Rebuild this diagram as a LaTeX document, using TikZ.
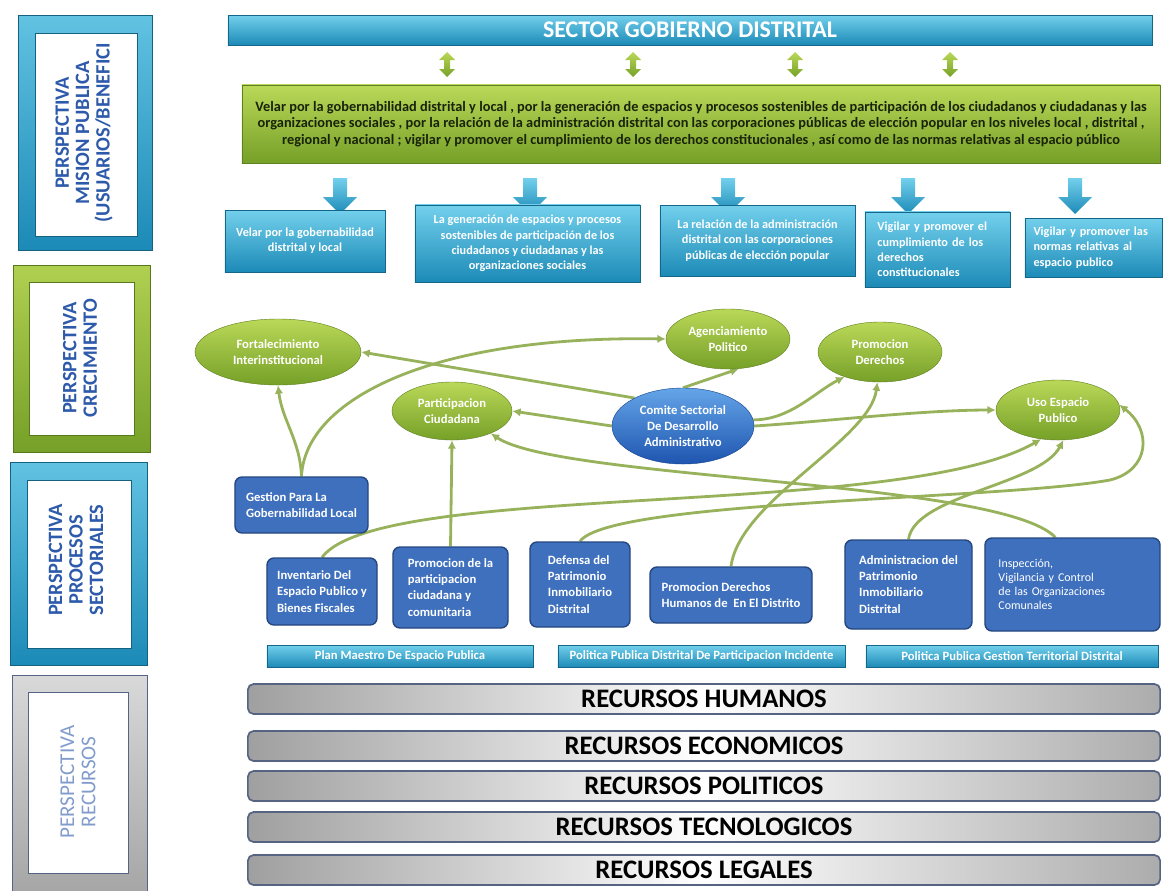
\documentclass[tikz,border=0pt]{standalone}
\usepackage{fontspec}
\setmainfont{Carlito}
\usetikzlibrary{shapes.geometric,arrows.meta}

\definecolor{cyanTop}{RGB}{115,208,236}
\definecolor{cyanBot}{RGB}{28,138,183}
\definecolor{greenTop}{RGB}{186,216,88}
\definecolor{greenBot}{RGB}{118,160,40}
\definecolor{procBlue}{RGB}{62,112,190}
\definecolor{procEdge}{RGB}{38,70,128}
\definecolor{comTop}{RGB}{100,165,232}
\definecolor{comBot}{RGB}{30,85,175}
\definecolor{linkGreen}{RGB}{152,178,92}
\definecolor{persText}{RGB}{45,90,170}
\definecolor{recEdge}{RGB}{85,100,130}
\definecolor{misText}{RGB}{25,35,10}

\pgfdeclarelayer{back}
\pgfsetlayers{back,main}

\tikzset{
  cyanbox/.style={draw=cyanBot!75!black, line width=0.4pt, top color=cyanTop, bottom color=cyanBot,
    text=white, font=\bfseries\fontsize{8.7}{10.8}\selectfont, inner sep=2pt},
  goal/.style={ellipse, top color=greenTop, bottom color=greenBot, draw=greenBot!80!black, line width=0.3pt,
    text=white, align=center, font=\bfseries\fontsize{9}{11.5}\selectfont, inner sep=0pt},
  proc/.style={rounded corners=5pt, fill=procBlue, draw=procEdge, line width=1pt, text=white,
    align=left, font=\bfseries\fontsize{9}{11.5}\selectfont},
  policy/.style={cyanbox, minimum height=0.55cm, font=\bfseries\fontsize{9}{10}\selectfont},
  recurso/.style={rounded corners=4pt, draw=recEdge, line width=1.2pt, left color=gray!75, right color=gray!65,
    middle color=white, minimum width=22.8cm, minimum height=0.75cm, font=\bfseries\fontsize{19}{20}\selectfont},
  link/.style={draw=linkGreen, line width=2pt, -{Latex[length=6pt,width=6pt]}},
  perstext/.style={rotate=90, text=persText, align=center, font=\bfseries\fontsize{14.5}{14.5}\selectfont},
}

\begin{document}
\begin{tikzpicture}[x=0.025cm, y=-0.025cm]
\useasboundingbox (0,0) rectangle (1168,890);

% perspectivas (columna izquierda)
\draw[cyanBot!70!black, top color=cyanTop!80!cyanBot, bottom color=cyanBot] (18,15) rectangle (152,250);
\draw[cyanBot!70!black, fill=white] (35,33) rectangle (137,236);
\node[perstext] (persMision) at (84,133) {PERSPECTIVA\\MISION PUBLICA\\(USUARIOS/BENEFICI};

\draw[greenBot!75!black, top color=greenTop!85!greenBot, bottom color=greenBot] (13,265) rectangle (150,452);
\draw[greenBot!75!black, fill=white] (29,282) rectangle (134,435);
\node[perstext] (persCrec) at (80,358) {PERSPECTIVA\\CRECIMIENTO};

\draw[cyanBot!70!black, top color=cyanTop!80!cyanBot, bottom color=cyanBot] (10,462) rectangle (147,665);
\draw[cyanBot!70!black, fill=white] (27,480) rectangle (131,648);
\node[perstext] (persProc) at (76,560) {PERSPECTIVA\\PROCESOS\\SECTORIALES};

\draw[recEdge, top color=gray!30, bottom color=gray!70] (12,675) rectangle (147,892);
\draw[recEdge, fill=white] (28,692) rectangle (128,873);
\node[perstext, text=persText!60!white, font=\fontsize{15}{15}\selectfont] (persRec) at (78,782) {PERSPECTIVA\\RECURSOS};

% sector y mision
\node[cyanbox, minimum width=23.1cm, minimum height=0.75cm, font=\bfseries\fontsize{17}{19}\selectfont] (sector) at (690,30) {SECTOR GOBIERNO DISTRITAL};

\foreach \x in {447,633,795,950}
  \shade[top color=greenTop, bottom color=greenBot] (\x,52) -- (\x+8,60) -- (\x+3,60) -- (\x+3,69) -- (\x+8,69)
    -- (\x,77) -- (\x-8,69) -- (\x-3,69) -- (\x-3,60) -- (\x-8,60) -- cycle;

\node[draw=greenBot!80!black, top color=greenTop, bottom color=greenBot, minimum width=22.95cm, minimum height=1.95cm,
  align=center, text=misText, font=\bfseries\fontsize{10.2}{11.8}\selectfont] (mision) at (701,124)
  {Velar por la gobernabilidad distrital y local , por la generación de espacios y procesos sostenibles de participación de los ciudadanos y ciudadanas y las\\
   organizaciones sociales , por la relación de la administración distrital con las corporaciones públicas de elección popular en los niveles local , distrital ,\\
   regional y nacional ; vigilar y promover el cumplimiento de los derechos constitucionales , así como de las normas relativas al espacio público};

\foreach \x in {340,530,728,908,1075}
  \shade[top color=cyanTop, bottom color=cyanBot] (\x-7,178) -- (\x+7,178) -- (\x+7,197) -- (\x+17,197)
    -- (\x,214) -- (\x-17,197) -- (\x-7,197) -- cycle;

\node[cyanbox, minimum width=4cm, minimum height=1.55cm, align=center] (velar) at (305,241)
  {Velar por la gobernabilidad\\distrital y local};
\node[cyanbox, minimum width=5.625cm, minimum height=1.925cm, align=center] (generacion) at (527.5,243.5)
  {La generación de espacios y procesos\\sostenibles de participación de los\\ciudadanos y ciudadanas y las\\organizaciones sociales};
\node[cyanbox, minimum width=4.875cm, minimum height=1.775cm, align=center] (relacion) at (757.5,240.5)
  {La relación de la administración\\distrital con las corporaciones\\públicas de elección popular};
\node[cyanbox, minimum width=3.625cm, minimum height=1.875cm, text width=3cm, align=left] (derechos) at (937.5,249.5)
  {Vigilar y promover el\\cumplimiento de los\\derechos\\constitucionales};
\node[cyanbox, minimum width=3.425cm, minimum height=1.475cm, text width=3cm, align=left] (normas) at (1093.5,247.5)
  {Vigilar y promover las\\normas relativas al\\espacio publico};

% crecimiento
\node[goal, minimum width=4.15cm, minimum height=1.65cm] (fort) at (278,352) {Fortalecimiento\\Interinstitucional};
\node[goal, minimum width=3.1cm, minimum height=1.5cm] (agen) at (728,339) {Agenciamiento\\Politico};
\node[goal, minimum width=3.1cm, minimum height=1.5cm] (prom) at (880,352) {Promocion\\Derechos};
\node[goal, minimum width=3.0cm, minimum height=1.45cm] (part) at (452,411) {Participacion\\Ciudadana};
\node[goal, minimum width=3.1cm, minimum height=1.5cm] (uso) at (1058,410) {Uso Espacio\\Publico};
\node[goal, top color=comTop, bottom color=comBot, draw=comBot!80!black, minimum width=3.55cm, minimum height=1.9cm]
  (comite) at (683,426) {Comite Sectorial\\De Desarrollo\\Administrativo};

% procesos sectoriales
\node[proc, minimum width=3.325cm, minimum height=1.4cm] (gestion) at (301.5,505) {Gestion Para La\\Gobernabilidad Local};
\node[proc, minimum width=2.75cm, minimum height=1.675cm] (inventario) at (322,591.5) {Inventario Del\\Espacio Publico y\\Bienes Fiscales};
\node[proc, minimum width=2.875cm, minimum height=2.025cm] (ppar) at (450.5,587.5) {Promocion de la\\participacion\\ciudadana y\\comunitaria};
\node[proc, minimum width=2.5cm, minimum height=2.125cm] (defensa) at (580,584.5) {Defensa del\\Patrimonio\\Inmobiliario\\Distrital};
\node[proc, minimum width=4.05cm, minimum height=1.4cm] (pddh) at (731,595) {Promocion Derechos\\Humanos de \ En El Distrito};
\node[proc, minimum width=3.175cm, minimum height=2.225cm] (admin) at (908.5,584.5) {Administracion del\\Patrimonio\\Inmobiliario\\Distrital};
\node[proc, minimum width=4.375cm, minimum height=2.325cm, text width=3.7cm, font=\fontsize{8.5}{10}\selectfont]
  (insp) at (1072.5,584.5) {Inspección,\\Vigilancia y Control\\de las Organizaciones\\Comunales};

\node[policy, minimum width=6.65cm] (plan) at (400,656) {Plan Maestro De Espacio Publica};
\node[policy, minimum width=7.175cm] (ppdpi) at (701.5,656) {Politica Publica Distrital De Participacion Incidente};
\node[policy, minimum width=7.3cm] (ppgtd) at (1012,656) {Politica Publica Gestion Territorial Distrital};

% recursos
\foreach \y/\name/\txt in {699/rh/HUMANOS, 746/re/ECONOMICOS, 786/rp/POLITICOS, 827/rt/TECNOLOGICOS, 870/rl/LEGALES}
  \node[recurso] (\name) at (704,\y) {RECURSOS \txt};

% relaciones
\begin{pgfonlayer}{back}
\draw[link] (gestion.north) .. controls (300,440) and (282,420) .. (fort.south);
\draw[link] (gestion.north) .. controls (305,400) and (430,335) .. (agen.west);
\draw[link] (comite.150) -- (fort.east);
\draw[link] (comite.west) -- (part.east);
\draw[link] (comite.north) -- (agen.-70);
\draw[link] (comite.5) .. controls (790,420) and (815,392) .. (prom.-145);
\draw[link] (comite.east) .. controls (820,422) and (920,410) .. (uso.west);
\draw[link] (ppar.north) -- (part.south);
\draw[link] (insp.110) .. controls (1000,480) and (560,480) .. (part.-30);
\draw[link] (inventario.north) .. controls (380,480) and (900,520) .. (uso.-120);
\draw[link] (admin.north) .. controls (915,495) and (1040,485) .. (uso.-80);
\draw[link] (defensa.north) .. controls (610,500) and (1000,500) .. (1110,480) .. controls (1150,470) and (1152,430) .. (uso.5);
\draw[link] (pddh.north) .. controls (740,500) and (870,440) .. (prom.-95);
\end{pgfonlayer}
\end{tikzpicture}
\end{document}
